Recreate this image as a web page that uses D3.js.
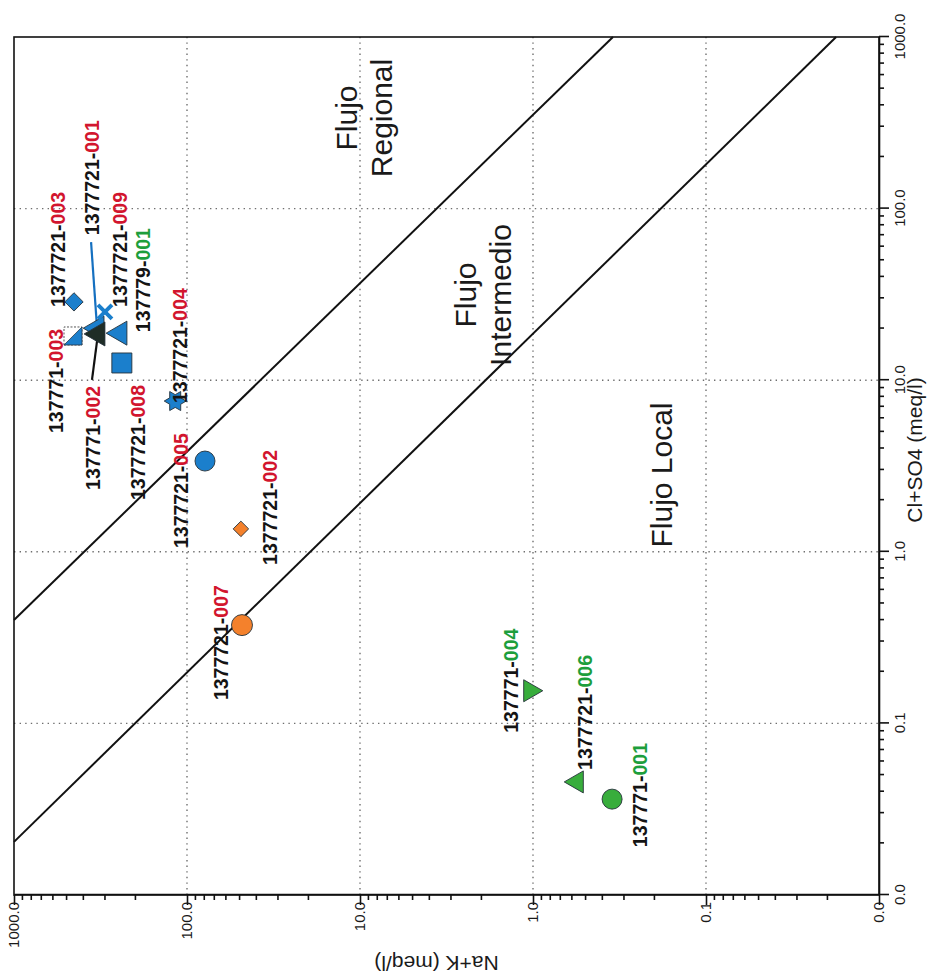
<!DOCTYPE html>
<html>
<head>
<meta charset="utf-8">
<script src="https://cdn.jsdelivr.net/npm/d3@7"></script>
<style>
  body { margin: 0; background: #fff; }
  svg { display: block; font-family: "Liberation Sans", Arial, sans-serif; }
</style>
</head>
<body>
<svg id="chart"></svg>
<script>
// samples, Cl+SO4 (meq/l) and Na+K (meq/l)
const samples = ["1377721-003", "137771-003", "1377721-001", "137771-002", "1377721-009",
  "137779-001", "1377721-008", "1377721-004", "1377721-005", "1377721-002",
  "1377721-007", "137771-004", "1377721-006", "137771-001"];
const clSo4 = [28.6, 18.1, 20.1, 18.6, 25.0, 18.8, 12.6, 7.56, 3.38, 1.36, 0.374, 0.155, 0.0456, 0.0362];
const naK = [450, 456, 331, 327, 298, 244, 238, 117, 78.7, 48.8, 48.1, 1.04, 0.557, 0.349];

// boundary lines between flow types: [Cl+SO4, Na+K] end points
const regionalLine = [[0.40, 1000], [1000, 0.345]];
const localLine = [[0.0204, 1000], [1000, 0.0177]];

const tickValues = [0.01, 0.1, 1, 10, 100, 1000];
const gridValues = [0.1, 1, 10, 100];

// ---- styles / layout (kept apart from the data) ----
const blue = "#1b7fcc", orange = "#f4812c", green = "#38ad3c", dark = "#1f2d26";
const red = "#d2152e", greenTxt = "#1d9e3c";

const markerStyle = {
  "1377721-003": { shape: "diamond", fill: blue, size: 13, suffix: red },
  "137771-003": { shape: "halfsquare", fill: blue, size: 18, suffix: red },
  "1377721-001": { shape: "triangle", fill: blue, size: 24, suffix: red },
  "137771-002": { shape: "triangle", fill: dark, size: 24, suffix: red },
  "1377721-009": { shape: "x", fill: blue, size: 14, suffix: red },
  "137779-001": { shape: "triangle", fill: blue, size: 24, suffix: greenTxt },
  "1377721-008": { shape: "square", fill: blue, size: 20, suffix: red },
  "1377721-004": { shape: "star", fill: blue, size: 22, suffix: red },
  "1377721-005": { shape: "circle", fill: blue, size: 20, suffix: red },
  "1377721-002": { shape: "diamond", fill: orange, size: 11, suffix: red },
  "1377721-007": { shape: "circle", fill: orange, size: 21, suffix: red },
  "137771-004": { shape: "triangleDown", fill: green, size: 22, suffix: greenTxt },
  "1377721-006": { shape: "triangle", fill: green, size: 22, suffix: greenTxt },
  "137771-001": { shape: "circle", fill: green, size: 20, suffix: greenTxt }
};

// label offset from its point (along the Cl axis, along the Na+K axis), in px
const labelOffset = {
  "1377721-003": [-5, -9], "137771-003": [-97, -10], "1377721-001": [93, 2],
  "137771-002": [-156, 2], "1377721-009": [5, 22], "137779-001": [1, 30],
  "1377721-008": [-137, 23], "1377721-004": [-2, 12], "1377721-005": [-87, -17],
  "1377721-002": [-36, 36], "1377721-007": [-75, -14], "137771-004": [-42, -12],
  "1377721-006": [12, 15], "137771-001": [-48, 35]
};
const leaders = [
  { sample: "1377721-001", to: [86, -6], color: "#1570c0" },
  { sample: "137771-002", to: [-46, -6], color: "#111" }
];

// chart is drawn in its own orientation, then turned a quarter to the left
const W = 858, H = 865, ox = 14, oy = 895;

const svg = d3.select("#chart").attr("width", 928).attr("height", 977);
svg.append("rect").attr("width", 928).attr("height", 977).attr("fill", "#fff");

const g = svg.append("g").attr("transform", `translate(${ox},${oy}) rotate(-90)`);

const x = d3.scaleLog().domain([0.01, 1000]).range([0, W]);
const y = d3.scaleLog().domain([0.01, 1000]).range([H, 0]);

// dotted grid
g.append("g").selectAll("line.gx").data(gridValues).join("line")
  .attr("x1", d => x(d)).attr("x2", d => x(d)).attr("y1", 0).attr("y2", H);
g.append("g").selectAll("line.gy").data(gridValues).join("line")
  .attr("y1", d => y(d)).attr("y2", d => y(d)).attr("x1", 0).attr("x2", W);
g.selectAll("g line").attr("stroke", "#6f6f6f").attr("stroke-width", 1.4)
  .attr("stroke-dasharray", "1.4 4.2");

// minor tick positions
const minors = [];
[0.01, 0.1, 1, 10, 100].forEach(dec => d3.range(2, 10).forEach(k => minors.push(k * dec)));

const fmt = d3.format(".1f");

g.append("g").attr("class", "axis")
  .call(d3.axisLeft(y).tickValues(tickValues).tickFormat(fmt).tickSize(10).tickSizeOuter(0).tickPadding(-3));
g.append("g").attr("class", "axis")
  .call(d3.axisLeft(y).tickValues(minors).tickFormat("").tickSize(5).tickSizeOuter(0))
  .select(".domain").remove();

g.append("g").attr("class", "axis").attr("transform", `translate(0,${H})`)
  .call(d3.axisBottom(x).tickValues(tickValues).tickFormat(fmt).tickSize(10).tickSizeOuter(0).tickPadding(5));
g.append("g").attr("class", "axis").attr("transform", `translate(0,${H})`)
  .call(d3.axisBottom(x).tickValues(minors).tickFormat("").tickSize(5).tickSizeOuter(0))
  .select(".domain").remove();

g.selectAll(".axis line, .axis path").attr("stroke", "#111").attr("stroke-width", 1.6);
g.selectAll(".axis text").attr("font-size", 15).attr("fill", "#1a1a1a")
  .attr("font-family", "Liberation Sans, Arial, sans-serif");

// frame
g.append("rect").attr("width", W).attr("height", H)
  .attr("fill", "none").attr("stroke", "#111").attr("stroke-width", 1.6);

// axis titles
g.append("text").attr("transform", `translate(-61,${H / 2 - 10}) rotate(-90)`)
  .attr("text-anchor", "middle").attr("font-size", 21).attr("fill", "#1a1a1a")
  .text("Na+K (meq/l)");
g.append("text").attr("x", 445).attr("y", H + 43)
  .attr("text-anchor", "middle").attr("font-size", 21).attr("fill", "#1a1a1a")
  .text("Cl+SO4 (meq/l)");

// boundary lines
const line = d3.line().x(d => x(d[0])).y(d => y(d[1]));
[regionalLine, localLine].forEach(l => {
  g.append("path").attr("d", line(l)).attr("fill", "none")
    .attr("stroke", "#111").attr("stroke-width", 2);
});

// region names
const regions = [
  { lines: ["Flujo", "Regional"], u: 777, v: [343, 378] },
  { lines: ["Flujo", "Intermedio"], u: 600, v: [462, 497] },
  { lines: ["Flujo Local"], u: 420, v: [658] }
];
regions.forEach(r => {
  r.lines.forEach((t, i) => {
    g.append("text").attr("x", r.u).attr("y", r.v[i])
      .attr("text-anchor", "middle").attr("font-size", 30).attr("fill", "#1a1a1a")
      .text(t);
  });
});

const points = samples.map((s, i) => ({ sample: s, cl: clSo4[i], nak: naK[i] }));

// leader lines
leaders.forEach(l => {
  const p = points.find(d => d.sample === l.sample);
  g.append("line")
    .attr("x1", x(p.cl)).attr("y1", y(p.nak))
    .attr("x2", x(p.cl) + l.to[0]).attr("y2", y(p.nak) + l.to[1])
    .attr("stroke", l.color).attr("stroke-width", 2.2);
});

// markers
function markerPath(st) {
  const s = st.size / 2;
  switch (st.shape) {
    case "circle": return d3.symbol(d3.symbolCircle, Math.PI * s * s)();
    case "square": return d3.symbol(d3.symbolSquare, st.size * st.size)();
    case "diamond": return `M0,${-s * 1.41}L${s * 1.41},0L0,${s * 1.41}L${-s * 1.41},0Z`;
    case "triangle":
    case "triangleDown": return d3.symbol(d3.symbolTriangle, st.size * st.size * 0.433)();
    case "star": {
      const pts = d3.range(12).map(k => {
        const a = k * Math.PI / 6 - Math.PI / 2;
        const r = k % 2 === 0 ? s : s * 0.58;
        return [r * Math.cos(a), r * Math.sin(a)];
      });
      return "M" + pts.join("L") + "Z";
    }
    case "x": return `M${-s},${-s}L${s},${s}M${-s},${s}L${s},${-s}`;
    default: return "";
  }
}

const marks = g.append("g").selectAll("g.mark").data(points).join("g")
  .attr("class", "mark")
  .attr("transform", d => `translate(${x(d.cl)},${y(d.nak)})`);

marks.each(function (d) {
  const st = markerStyle[d.sample];
  const m = d3.select(this);
  if (st.shape === "halfsquare") {
    const s = st.size / 2;
    m.append("rect").attr("x", -s).attr("y", -s).attr("width", st.size).attr("height", st.size)
      .attr("fill", "#fff").attr("stroke", "#555").attr("stroke-width", 1)
      .attr("stroke-dasharray", "2 1.5");
    m.append("path").attr("d", `M${-s},${-s}L${-s},${s}L${s},${s}Z`)
      .attr("fill", st.fill).attr("stroke", "#2a3a4a").attr("stroke-width", 0.8);
  } else if (st.shape === "x") {
    m.append("path").attr("d", markerPath(st)).attr("fill", "none")
      .attr("stroke", st.fill).attr("stroke-width", 4);
  } else {
    m.append("path").attr("d", markerPath(st))
      .attr("transform", st.shape === "triangleDown" ? "rotate(180)" : null)
      .attr("fill", st.fill).attr("stroke", "#26323a").attr("stroke-width", 0.9);
  }
});

// sample labels: black prefix, coloured suffix
const labels = g.append("g").selectAll("text").data(points).join("text")
  .attr("x", d => x(d.cl) + labelOffset[d.sample][0])
  .attr("y", d => y(d.nak) + labelOffset[d.sample][1])
  .attr("font-size", 19.5).attr("font-weight", "bold");
labels.append("tspan").attr("fill", "#141414")
  .text(d => d.sample.slice(0, d.sample.indexOf("-") + 1));
labels.append("tspan").attr("fill", d => markerStyle[d.sample].suffix)
  .text(d => d.sample.slice(d.sample.indexOf("-") + 1));
</script>
</body>
</html>
